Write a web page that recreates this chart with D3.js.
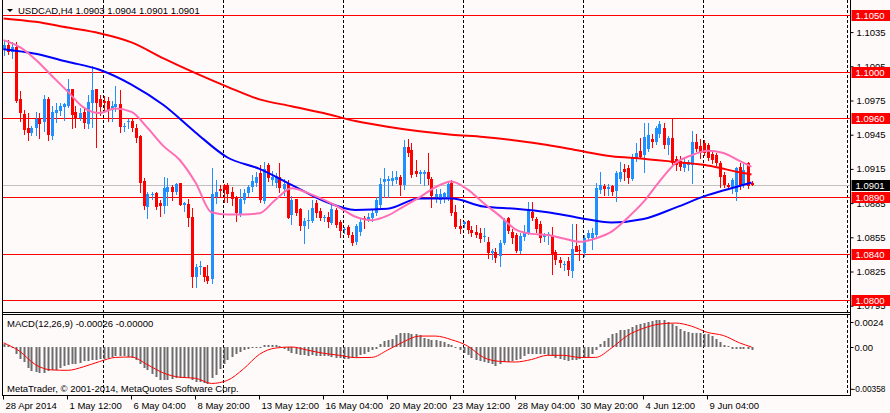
<!DOCTYPE html>
<html>
<head>
<meta charset="utf-8">
<script src="https://cdn.jsdelivr.net/npm/d3@7/dist/d3.min.js"></script>
<style>
  body { margin: 0; background: #fffafa; }
  svg { display: block; font-family: 'Liberation Sans', Arial, sans-serif; font-size: 9.5px; }
</style>
</head>
<body>
<div class="container"></div>
<script>
// OHLC per H4 bar, 28 Apr 2014 20:00 .. 10 Jun 2014
var open = [1.1020,1.1024,1.1018,1.1022,1.0976,1.0963,1.0951,1.0947,1.0951,1.0960,1.0956,1.0976,1.0944,1.0964,1.0966,1.0969,1.0970,1.0985,1.0965,1.0960,
  1.0965,1.0955,1.0973,1.0985,1.0976,1.0975,1.0975,1.0967,1.0969,1.0972,1.0952,1.0956,1.0957,1.0951,1.0944,1.0904,1.0882,1.0892,1.0894,1.0885,
  1.0882,1.0895,1.0899,1.0895,1.0903,1.0883,1.0884,1.0873,1.0820,1.0829,1.0829,1.0821,1.0818,1.0891,1.0897,1.0901,1.0901,1.0895,1.0890,1.0876,
  1.0888,1.0894,1.0899,1.0903,1.0911,1.0887,1.0918,1.0905,1.0903,1.0908,1.0898,1.0902,1.0875,1.0889,1.0880,1.0865,1.0869,1.0870,1.0885,1.0878,
  1.0872,1.0873,1.0868,1.0879,1.0868,1.0861,1.0864,1.0857,1.0851,1.0859,1.0872,1.0871,1.0872,1.0877,1.0884,1.0903,1.0904,1.0904,1.0905,1.0908,
  1.0901,1.0934,1.0932,1.0913,1.0910,1.0910,1.0912,1.0906,1.0890,1.0888,1.0889,1.0890,1.0903,1.0877,1.0865,1.0866,1.0869,1.0861,1.0860,1.0859,
  1.0855,1.0851,1.0841,1.0842,1.0839,1.0850,1.0872,1.0860,1.0857,1.0843,1.0856,1.0859,1.0877,1.0871,1.0867,1.0855,1.0856,1.0857,1.0842,1.0835,
  1.0831,1.0834,1.0826,1.0847,1.0844,1.0841,1.0855,1.0855,1.0857,1.0897,1.0900,1.0897,1.0900,1.0895,1.0906,1.0915,1.0916,1.0907,1.0925,1.0931,
  1.0927,1.0933,1.0941,1.0939,1.0945,1.0951,1.0936,1.0942,1.0924,1.0922,1.0916,1.0918,1.0919,1.0939,1.0935,1.0938,1.0936,1.0928,1.0927,1.0920,
  1.0910,1.0901,1.0899,1.0895,1.0917,1.0901,1.0920,1.0903];
var high = [1.1027,1.1028,1.1026,1.1026,1.0983,1.0967,1.0964,1.0953,1.0965,1.0964,1.0980,1.0978,1.0970,1.0973,1.0973,1.0973,1.0994,1.0985,1.0970,1.0968,
  1.0969,1.0980,1.1005,1.0985,1.0980,1.0979,1.0978,1.0975,1.0988,1.0984,1.0955,1.0959,1.0959,1.0954,1.0945,1.0907,1.0895,1.0895,1.0895,1.0888,
  1.0908,1.0907,1.0901,1.0903,1.0903,1.0886,1.0889,1.0881,1.0832,1.0834,1.0829,1.0831,1.0916,1.0905,1.0901,1.0902,1.0903,1.0899,1.0891,1.0897,
  1.0897,1.0901,1.0910,1.0912,1.0918,1.0921,1.0920,1.0913,1.0911,1.0920,1.0906,1.0905,1.0891,1.0889,1.0881,1.0872,1.0879,1.0888,1.0888,1.0881,
  1.0875,1.0877,1.0884,1.0881,1.0870,1.0864,1.0866,1.0860,1.0867,1.0871,1.0874,1.0876,1.0879,1.0890,1.0907,1.0916,1.0909,1.0913,1.0913,1.0910,
  1.0940,1.0941,1.0938,1.0923,1.0914,1.0914,1.0929,1.0908,1.0897,1.0897,1.0895,1.0904,1.0905,1.0883,1.0871,1.0869,1.0870,1.0865,1.0866,1.0863,
  1.0863,1.0855,1.0845,1.0846,1.0853,1.0872,1.0873,1.0862,1.0859,1.0859,1.0866,1.0886,1.0886,1.0873,1.0869,1.0859,1.0860,1.0864,1.0844,1.0838,
  1.0834,1.0838,1.0867,1.0867,1.0848,1.0857,1.0861,1.0863,1.0903,1.0912,1.0902,1.0902,1.0901,1.0913,1.0921,1.0919,1.0918,1.0928,1.0938,1.0942,
  1.0955,1.0955,1.0946,1.0953,1.0957,1.0955,1.0944,1.0960,1.0926,1.0926,1.0925,1.0923,1.0948,1.0946,1.0941,1.0940,1.0938,1.0931,1.0929,1.0922,
  1.0912,1.0903,1.0907,1.0917,1.0920,1.0919,1.0921,1.0904];
var low = [1.1015,1.1016,1.1012,1.0974,1.0957,1.0946,1.0940,1.0945,1.0945,1.0942,1.0948,1.0940,1.0941,1.0956,1.0962,1.0958,1.0969,1.0951,1.0952,1.0958,
  1.0951,1.0951,1.0952,1.0934,1.0962,1.0967,1.0957,1.0957,1.0966,1.0947,1.0948,1.0951,1.0948,1.0939,1.0895,1.0880,1.0872,1.0889,1.0880,1.0874,
  1.0876,1.0883,1.0888,1.0893,1.0883,1.0878,1.0865,1.0811,1.0811,1.0823,1.0817,1.0815,1.0815,1.0885,1.0890,1.0886,1.0886,1.0883,1.0869,1.0874,
  1.0885,1.0891,1.0896,1.0900,1.0886,1.0885,1.0904,1.0901,1.0899,1.0895,1.0892,1.0872,1.0867,1.0875,1.0861,1.0850,1.0863,1.0868,1.0873,1.0870,
  1.0869,1.0864,1.0867,1.0864,1.0855,1.0859,1.0855,1.0848,1.0849,1.0857,1.0863,1.0869,1.0869,1.0875,1.0882,1.0890,1.0890,1.0901,1.0903,1.0892,
  1.0897,1.0926,1.0908,1.0909,1.0903,1.0901,1.0902,1.0882,1.0886,1.0885,1.0886,1.0888,1.0875,1.0863,1.0859,1.0864,1.0859,1.0856,1.0855,1.0851,
  1.0852,1.0837,1.0836,1.0833,1.0830,1.0849,1.0859,1.0850,1.0842,1.0841,1.0853,1.0858,1.0870,1.0860,1.0851,1.0852,1.0849,1.0823,1.0832,1.0829,
  1.0826,1.0822,1.0820,1.0843,1.0835,1.0839,1.0853,1.0845,1.0855,1.0894,1.0892,1.0892,1.0892,1.0887,1.0904,1.0905,1.0903,1.0905,1.0922,1.0925,
  1.0912,1.0931,1.0934,1.0937,1.0943,1.0933,1.0928,1.0918,1.0914,1.0914,1.0913,1.0914,1.0903,1.0931,1.0925,1.0927,1.0923,1.0920,1.0918,1.0899,
  1.0899,1.0897,1.0894,1.0888,1.0897,1.0899,1.0898,1.0901];
var close = [1.1024,1.1018,1.1022,1.0975,1.0964,1.0949,1.0947,1.0951,1.0959,1.0955,1.0976,1.0944,1.0965,1.0967,1.0970,1.0972,1.0985,1.0962,1.0960,1.0964,
  1.0955,1.0974,1.0984,1.0973,1.0969,1.0973,1.0966,1.0970,1.0972,1.0952,1.0953,1.0957,1.0951,1.0942,1.0903,1.0882,1.0893,1.0893,1.0882,1.0882,
  1.0898,1.0899,1.0895,1.0902,1.0884,1.0885,1.0872,1.0820,1.0829,1.0830,1.0820,1.0817,1.0893,1.0895,1.0895,1.0897,1.0893,1.0889,1.0876,1.0889,
  1.0894,1.0899,1.0904,1.0908,1.0887,1.0915,1.0907,1.0908,1.0909,1.0898,1.0902,1.0872,1.0888,1.0877,1.0865,1.0869,1.0870,1.0881,1.0876,1.0872,
  1.0873,1.0869,1.0880,1.0866,1.0860,1.0862,1.0857,1.0850,1.0865,1.0868,1.0870,1.0873,1.0876,1.0888,1.0902,1.0906,1.0906,1.0907,1.0908,1.0901,
  1.0934,1.0929,1.0910,1.0910,1.0912,1.0912,1.0906,1.0891,1.0893,1.0893,1.0894,1.0902,1.0877,1.0864,1.0862,1.0868,1.0861,1.0858,1.0857,1.0854,
  1.0856,1.0841,1.0843,1.0837,1.0850,1.0870,1.0861,1.0855,1.0843,1.0856,1.0860,1.0878,1.0872,1.0862,1.0855,1.0857,1.0858,1.0840,1.0835,1.0832,
  1.0832,1.0826,1.0845,1.0842,1.0843,1.0854,1.0859,1.0859,1.0898,1.0901,1.0897,1.0899,1.0895,1.0911,1.0912,1.0912,1.0907,1.0925,1.0929,1.0926,
  1.0943,1.0945,1.0938,1.0951,1.0954,1.0936,1.0942,1.0920,1.0919,1.0917,1.0921,1.0921,1.0939,1.0933,1.0929,1.0929,1.0925,1.0923,1.0920,1.0908,
  1.0901,1.0899,1.0905,1.0916,1.0901,1.0914,1.0900,1.0901];

// moving averages (slow / mid every 8 bars, fast every 4 bars, last point = bar 187)
var maSlow = [1.1047,1.1044,1.1039,1.1034,1.1026,1.1012,1.0999,1.0987,1.0976,1.0970,1.0964,1.0957,1.0952,1.0948,1.0945,1.0943,
  1.0940,1.0936,1.0931,1.0926,1.0924,1.0921,1.0918,1.0912,1.0910];
var maMid = [1.1020,1.1016,1.1009,1.1002,1.0989,1.0971,1.0947,1.0925,1.0915,1.0901,1.0887,1.0879,1.0880,1.0889,1.0889,1.0882,
  1.0880,1.0877,1.0872,1.0868,1.0871,1.0881,1.0892,1.0900,1.0903];
var maFast = [1.1028,1.1022,1.1011,1.0997,1.0983,1.0969,1.0964,1.0968,1.0965,1.0951,1.0935,1.0923,1.0903,1.0877,1.0875,1.0875,
  1.0876,1.0888,1.0898,1.0894,1.0888,1.0881,1.0873,1.0870,1.0874,1.0882,1.0890,1.0899,1.0904,1.0897,1.0885,1.0874,
  1.0862,1.0858,1.0857,1.0854,1.0851,1.0854,1.0860,1.0872,1.0886,1.0904,1.0920,1.0927,1.0931,1.0929,1.0922,1.0917];

// MACD(12,26,9) histogram per bar, signal every 4 bars
var macd = [0.00026,0.00022,-0.0001,-0.00064,-0.00112,-0.00144,-0.00198,-0.0023,-0.00243,-0.0025,-0.00246,-0.0023,-0.00224,-0.00218,-0.00198,-0.00186,-0.00176,-0.00166,-0.0016,-0.00154,
  -0.00138,-0.00134,-0.00128,-0.00122,-0.00118,-0.00112,-0.00102,-0.00096,-0.0009,-0.0009,-0.0009,-0.00096,-0.00102,-0.00128,-0.0016,-0.00198,-0.00224,-0.00256,-0.00288,-0.00314,
  -0.0032,-0.00314,-0.00307,-0.00298,-0.00294,-0.00298,-0.00301,-0.0032,-0.00336,-0.00336,-0.00346,-0.00358,-0.0030,-0.00272,-0.00208,-0.0016,-0.00128,-0.00096,-0.0007,-0.00048,
  -0.00032,-0.00022,-0.00013,-0.00006,-0.00002,0.00016,0.00022,0.00022,0.0002,0.00006,-0.00016,-0.00038,-0.00058,-0.0007,-0.0008,-0.0008,-0.00083,-0.0008,-0.00083,-0.0009,
  -0.0009,-0.0009,-0.00096,-0.00102,-0.00109,-0.00115,-0.00112,-0.00106,-0.00096,-0.0008,-0.00064,-0.00048,-0.00032,-0.00016,0.00026,0.00054,0.0007,0.0008,0.00112,0.00138,
  0.00138,0.00134,0.00128,0.00122,0.00112,0.0009,0.0008,0.0007,0.00064,0.00054,0.00048,0.00032,0.00016,-0.0001,-0.00032,-0.00058,-0.0008,-0.00102,-0.00122,-0.00134,
  -0.00144,-0.00154,-0.00166,-0.00179,-0.0016,-0.00144,-0.00144,-0.00138,-0.00128,-0.00112,-0.0009,-0.0007,-0.00064,-0.00064,-0.00064,-0.00064,-0.0008,-0.0009,-0.00102,-0.00112,
  -0.00128,-0.00134,-0.00128,-0.00122,-0.00112,-0.00102,-0.00096,-0.0007,-0.00032,0.00032,0.00058,0.0009,0.00122,0.00134,0.0016,0.00166,0.00176,0.00192,0.00208,0.00218,
  0.0023,0.0024,0.0025,0.00256,0.00262,0.00256,0.0024,0.00224,0.00198,0.00176,0.00154,0.00144,0.00134,0.00134,0.00134,0.00128,0.00122,0.00102,0.0008,0.00048,
  0.00022,0.00006,-0.00016,-0.00016,-0.00016,-0.00016,-0.0002,-0.00026];
var signal = [0.0004,-0.0004,-0.0017,-0.0022,-0.00224,-0.0019,-0.0014,-0.0010,-0.00096,-0.0017,-0.0025,-0.0029,-0.0030,-0.0035,-0.0032,-0.0021,
  -0.0007,-0.0001,0.0,-0.0003,-0.0006,-0.0008,-0.00102,-0.0010,-0.0003,0.0005,0.00105,0.00105,0.0007,0.0001,-0.0010,-0.00138,
  -0.00144,-0.0012,-0.0008,-0.0008,-0.0010,-0.0010,-0.0001,0.0011,0.0018,0.0022,0.0023,0.0020,0.0014,0.0011,0.0004,0.0];

var levels = [1.1050, 1.1000, 1.0960, 1.0890, 1.0840, 1.0800];
var lastPrice = 1.0901;
var priceTicks = [1.1035, 1.1005, 1.0975, 1.0945, 1.0915, 1.0885, 1.0855, 1.0825, 1.0795];
var macdTicks = [0.0024, 0, -0.00358];
var macdTickLabels = ['0.0024', '0.00', '-0.00358'];
var timeBars = [0, 16, 32, 48, 64, 80, 96, 112, 128, 144, 160, 176];
var timeLabels = ['28 Apr 2014', '1 May 12:00', '6 May 04:00', '8 May 20:00', '13 May 12:00', '16 May 04:00',
  '20 May 20:00', '23 May 12:00', '28 May 04:00', '30 May 20:00', '4 Jun 12:00', '9 Jun 04:00'];
var gridBars = [25, 55, 85, 115, 145, 175, 211];

var width = 890, height = 413;
var axisX = 850.5, leftX = 2.5;
var mainBottom = 312.5, subTop = 314.5, subBottom = 395.5;
var n = close.length;
var font = 'Liberation Sans, Arial';

var svg = d3.select('.container')
    .append('svg')
    .attr('width', width)
    .attr('height', height);

svg.append('rect').attr('width', width).attr('height', height).attr('fill', '#fffafa');

var x = d3.scaleLinear().domain([0, n - 1]).range([3.5, 751.5]);
var y = d3.scaleLinear().domain([1.0800, 1.1050]).range([300, 15]);
var ym = d3.scaleLinear().domain([0, 0.0024]).range([347, 322]);

function idx(k, step) { return Math.min(k * step, n - 1); }

var defs = svg.append('defs');
defs.append('clipPath').attr('id', 'clipMain')
    .append('rect').attr('x', leftX).attr('y', 0).attr('width', axisX - leftX).attr('height', mainBottom);
// local coords of the axis group (translated by axisX)
defs.append('clipPath').attr('id', 'clipAxis')
    .append('rect').attr('x', 0).attr('y', 0).attr('width', 40).attr('height', mainBottom - 1);

// dashed vertical grid
svg.selectAll('.vgrid')
    .data(gridBars)
    .enter()
    .append('line')
    .attr('x1', d => Math.round(x(d)) - 0.5)
    .attr('x2', d => Math.round(x(d)) - 0.5)
    .attr('y1', 0)
    .attr('y2', subBottom)
    .style('stroke', '#000')
    .style('stroke-dasharray', '3,2');

var main = svg.append('g').attr('clip-path', 'url(#clipMain)');

// horizontal levels
main.selectAll('.lvl')
    .data(levels)
    .enter()
    .append('line')
    .attr('x1', leftX).attr('x2', axisX)
    .attr('y1', d => Math.round(y(d)) + 0.5)
    .attr('y2', d => Math.round(y(d)) + 0.5)
    .style('stroke', '#ff0000');

main.append('line')
    .attr('x1', leftX).attr('x2', axisX)
    .attr('y1', Math.round(y(lastPrice)) + 0.5)
    .attr('y2', Math.round(y(lastPrice)) + 0.5)
    .style('stroke', '#c0c0c0');

// candles
var bars = d3.range(n);
var col = i => close[i] > open[i] ? '#1e90ff' : '#ff0000';

main.selectAll('.wick')
    .data(bars)
    .enter()
    .append('line')
    .attr('x1', i => Math.round(x(i)) + 0.5)
    .attr('x2', i => Math.round(x(i)) + 0.5)
    .attr('y1', i => Math.round(y(high[i])))
    .attr('y2', i => Math.round(y(low[i])) + 1)
    .style('stroke', col);

main.selectAll('.body')
    .data(bars)
    .enter()
    .append('rect')
    .attr('x', i => Math.round(x(i)) - 1)
    .attr('width', 3)
    .attr('y', i => Math.round(y(Math.max(open[i], close[i]))))
    .attr('height', i => Math.max(1, Math.round(Math.abs(y(open[i]) - y(close[i])))))
    .style('fill', col);

// moving averages
function maLine(vals, step, color) {
    var line = d3.line()
        .x((d, k) => x(idx(k, step)))
        .y(d => y(d))
        .curve(d3.curveMonotoneX);
    main.append('path')
        .datum(vals)
        .attr('d', line)
        .style('fill', 'none')
        .style('stroke', color)
        .style('stroke-width', 2);
}
maLine(maSlow, 8, '#ff0000');
maLine(maMid, 8, '#0000ff');
maLine(maFast, 4, '#ff6eb4');

// MACD
svg.selectAll('.hist')
    .data(bars)
    .enter()
    .append('rect')
    .attr('x', i => Math.round(x(i)) - 0.5)
    .attr('width', 2)
    .attr('y', i => Math.round(Math.min(ym(macd[i]), ym(0))))
    .attr('height', i => Math.max(1, Math.round(Math.abs(ym(macd[i]) - ym(0)))))
    .style('fill', '#6c6c6c');

svg.append('path')
    .datum(signal)
    .attr('d', d3.line().x((d, k) => x(idx(k, 4))).y(d => ym(d)).curve(d3.curveMonotoneX))
    .style('fill', 'none')
    .style('stroke', '#ff0000')
    .style('stroke-width', 1);

// frame
var frame = svg.append('g').style('stroke', '#000').style('shape-rendering', 'crispEdges');
frame.append('line').attr('x1', leftX).attr('x2', leftX).attr('y1', 0).attr('y2', subBottom);
frame.append('line').attr('x1', axisX).attr('x2', axisX).attr('y1', 0).attr('y2', subBottom);
frame.append('line').attr('x1', leftX).attr('x2', axisX).attr('y1', mainBottom).attr('y2', mainBottom);
frame.append('line').attr('x1', leftX).attr('x2', axisX).attr('y1', subTop).attr('y2', subTop);
frame.append('line').attr('x1', leftX).attr('x2', axisX).attr('y1', subBottom).attr('y2', subBottom);

// price axis
var pAxis = svg.append('g')
    .attr('transform', 'translate(' + axisX + ',0)')
    .attr('clip-path', 'url(#clipAxis)')
    .call(d3.axisRight(y).tickValues(priceTicks).tickSize(3).tickPadding(3).tickFormat(d3.format('.4f')));
pAxis.select('.domain').remove();
pAxis.selectAll('text').style('font-family', font).style('font-size', '9.5px').style('fill', '#000');

var mAxis = svg.append('g')
    .attr('transform', 'translate(' + axisX + ',0)')
    .call(d3.axisRight(ym).tickValues(macdTicks).tickSize(3).tickPadding(1).tickFormat((d, i) => macdTickLabels[i]));
mAxis.select('.domain').remove();
mAxis.selectAll('text').style('font-family', font).style('font-size', '9.5px').style('fill', '#000');
mAxis.selectAll('.tick').filter(d => d < 0).attr('transform', d => 'translate(0,' + (ym(d) + 5) + ')')
    .select('text').attr('x', 2).attr('textLength', 33).attr('lengthAdjust', 'spacingAndGlyphs');

// level labels
var tags = svg.selectAll('.tag')
    .data(levels)
    .enter()
    .append('g')
    .attr('transform', d => 'translate(' + (axisX + 1) + ',' + Math.round(y(d)) + ')');
tags.append('rect').attr('x', 0).attr('y', -5).attr('width', 39).attr('height', 11).style('fill', '#ff0000');
tags.append('text').attr('x', 4).attr('y', 4).text(d => d.toFixed(4)).style('fill', '#fff');

var cur = svg.append('g').attr('transform', 'translate(' + (axisX + 1) + ',' + Math.round(y(lastPrice)) + ')');
cur.append('rect').attr('x', 0).attr('y', -5).attr('width', 39).attr('height', 11).style('fill', '#000');
cur.append('text').attr('x', 4).attr('y', 4).text(lastPrice.toFixed(4)).style('fill', '#fff');

// time axis
var tAxis = svg.append('g')
    .attr('transform', 'translate(0,' + subBottom + ')')
    .call(d3.axisBottom(x).tickValues(timeBars).tickSize(4).tickPadding(3).tickFormat((d, i) => timeLabels[i]));
tAxis.select('.domain').remove();
tAxis.selectAll('.tick').attr('transform', d => 'translate(' + (Math.round(x(d)) - 0.5) + ',0)');
tAxis.selectAll('text').attr('text-anchor', 'start').attr('x', 2)
    .style('font-family', font).style('font-size', '9.5px').style('fill', '#000');

// titles
svg.append('path').attr('d', 'M7,9L13,9L10,12Z').style('fill', '#000');
svg.append('text').attr('x', 18).attr('y', 14).text('USDCAD,H4  1.0903 1.0904 1.0901 1.0901');
svg.append('text').attr('x', 7).attr('y', 327).text('MACD(12,26,9) -0.00026 -0.00000');
svg.append('text').attr('x', 7).attr('y', 392).text('MetaTrader, \u00a9 2001-2014, MetaQuotes Software Corp.');
</script>
</body>
</html>
